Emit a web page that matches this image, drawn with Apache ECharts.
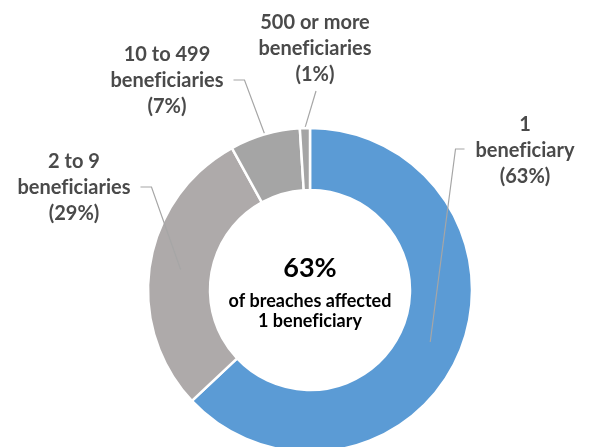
<!DOCTYPE html>
<html>
<head>
<meta charset="utf-8">
<script src="https://cdn.jsdelivr.net/npm/echarts@6/dist/echarts.min.js"></script>
<style>
  html, body { margin: 0; padding: 0; background: #fff; }
  #chart { width: 591px; height: 447px; }
</style>
</head>
<body>
<div id="chart"></div>
<script>
// ---- data ----
const categories = ['1\nbeneficiary', '2 to 9\nbeneficiaries', '10 to 499\nbeneficiaries', '500 or more\nbeneficiaries'];
const shares = [63, 29, 7, 1];
const colors = ['#5B9BD5', '#AEAAAA', '#A5A5A5', '#A5A5A5'];
const centerCaption = ['of breaches affected', '1 beneficiary'];

// ---- layout config (not data) ----
const CX = 310, CY = 290, R_IN = 100, R_OUT = 162, R_MID = 131;
// leader lines of the two large slices start mid-ring, the thin slices at the rim
const anchorMidRing = [true, true, false, false];
// label centres and the side from which the leader enters
const labelSpots = [[525, 151, 'left'], [74, 188, 'right'], [167, 81, 'right'], [315, 49, 'bottom']];

const chart = echarts.init(document.getElementById('chart'), null, { renderer: 'canvas' });

const FONT = 'Lato';
const noLig = s => s.replace(/fi/g, 'f\u200Ci');
const labelText = {
  color: '#4A4A4A', fontFamily: FONT, fontWeight: 'bold', fontSize: 20, lineHeight: 26,
  align: 'center'
};
const labelFormatter = p => noLig(p.name) + '\n(' + p.percent + '%)';

function layoutLabel(params) {
  const spot = labelSpots[params.dataIndex];
  const x = spot[0], y = spot[1], side = spot[2];
  const w = params.labelRect.width, h = params.labelRect.height;
  const a = params.labelLinePoints ? params.labelLinePoints[0] : [CX, CY];
  let end, bend;
  if (side === 'left') {
    end = [x - w / 2 - 11, y - 2];
    bend = [end[0] - 9, end[1]];
  } else if (side === 'right') {
    end = [x + w / 2 + 10, y - 1];
    bend = [end[0] + 11, end[1]];
  } else {
    end = [x + 1, y + h / 2 + 3];
    bend = end;
  }
  return {
    x: x, y: y, align: 'center', verticalAlign: 'middle',
    labelLinePoints: [a, bend, end]
  };
}

function makeData(showFn) {
  return shares.map((v, i) => ({
    name: categories[i],
    value: v,
    label: { show: showFn(i) },
    labelLine: { show: showFn(i) }
  }));
}

const total = shares.reduce((s, v) => s + v, 0);
const headline = Math.round(shares[0] / total * 100) + '%';

chart.setOption({
  animation: false,
  color: colors,
  series: [
    {
      type: 'pie',
      z: 2,
      center: [CX, CY],
      radius: [R_IN, R_OUT],
      startAngle: 90,
      clockwise: true,
      percentPrecision: 0,
      itemStyle: { borderColor: '#ffffff', borderWidth: 2.5 },
      emphasis: { disabled: true },
      label: Object.assign({ formatter: labelFormatter, position: 'outside' }, labelText),
      labelLine: { lineStyle: { color: '#A6A6A6', width: 1.2 }, smooth: false },
      labelLayout: layoutLabel,
      data: makeData(i => !anchorMidRing[i])
    },
    {
      type: 'pie',
      z: 5,
      center: [CX, CY],
      radius: [0, R_MID],
      startAngle: 90,
      clockwise: true,
      silent: true,
      percentPrecision: 0,
      itemStyle: { color: 'rgba(0,0,0,0)', borderWidth: 0 },
      emphasis: { disabled: true },
      label: Object.assign({ formatter: labelFormatter, position: 'outside' }, labelText),
      labelLine: { lineStyle: { color: '#A6A6A6', width: 1.2 }, smooth: false },
      labelLayout: layoutLabel,
      data: makeData(i => anchorMidRing[i])
    }
  ],
  graphic: [
    {
      type: 'text', x: CX, y: 268, z: 10,
      style: {
        text: headline, fill: '#000', font: 'bold 27px ' + FONT,
        textAlign: 'center', textVerticalAlign: 'middle'
      }
    },
    {
      type: 'text', x: CX, y: 311, z: 10,
      style: {
        text: centerCaption.map(noLig).join('\n'), fill: '#000', font: 'bold 18px ' + FONT,
        lineHeight: 20, textAlign: 'center', textVerticalAlign: 'middle'
      }
    }
  ]
});
</script>
</body>
</html>
